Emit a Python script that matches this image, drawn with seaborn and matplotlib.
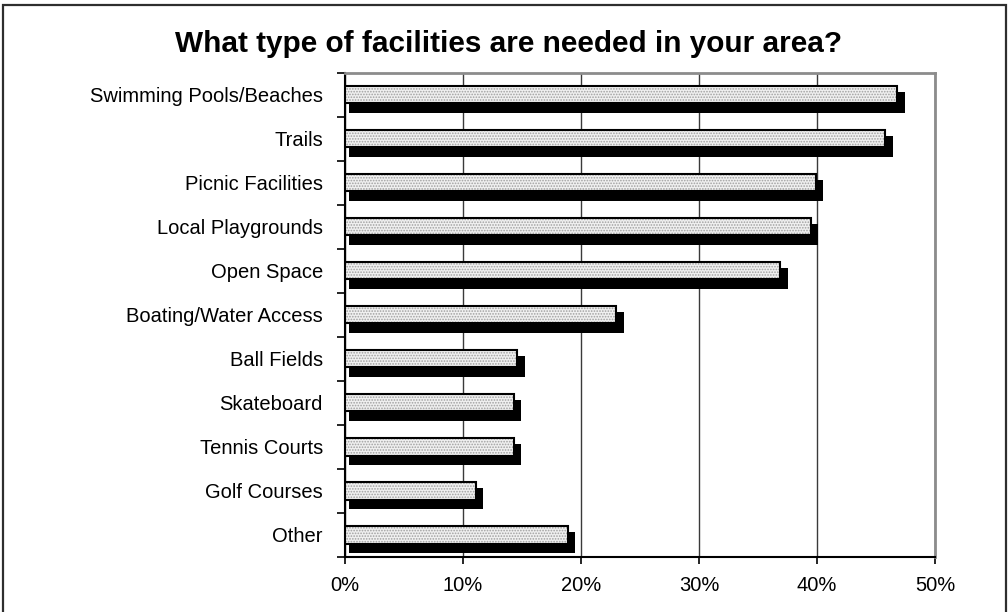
import matplotlib
matplotlib.use("Agg")
import matplotlib.pyplot as plt
from matplotlib.patches import Rectangle
import numpy as np
import pandas as pd
import seaborn as sns

# Survey results: share of respondents naming each facility type
categories = [
    "Swimming Pools/Beaches",
    "Trails",
    "Picnic Facilities",
    "Local Playgrounds",
    "Open Space",
    "Boating/Water Access",
    "Ball Fields",
    "Skateboard",
    "Tennis Courts",
    "Golf Courses",
    "Other",
]
shares = [46.8, 45.8, 39.9, 39.5, 36.9, 23.0, 14.6, 14.3, 14.3, 11.1, 18.9]
x_ticks = [0, 10, 20, 30, 40, 50]
x_tick_labels = ["0%", "10%", "20%", "30%", "40%", "50%"]
title = "What type of facilities are needed in your area?"

sns.set_theme(style="white")
plt.rcParams["font.family"] = ["Liberation Sans", "DejaVu Sans"]
plt.rcParams["hatch.linewidth"] = 0.8

df = pd.DataFrame({"facility": categories, "share": shares})

fig = plt.figure(figsize=(10.08, 6.12), dpi=100)
ax = fig.add_axes([0.3423, 0.0899, 0.5853, 0.7913])

# dotted light-grey fill of the bars
sns.barplot(data=df, x="share", y="facility", orient="h", width=0.39,
            color="#f2f2f2", ax=ax, zorder=3)
for p in ax.containers[-1]:
    p.set_facecolor("#f0f0f0")
    p.set_edgecolor("#a0a0a0")
    p.set_linewidth(0)
    p.set_hatch("......")

# black outline drawn on top of the fill
sns.barplot(data=df, x="share", y="facility", orient="h", width=0.39,
            color="white", ax=ax, zorder=4)
for p in ax.containers[-1]:
    p.set_facecolor("none")
    p.set_edgecolor("black")
    p.set_linewidth(1.5)

# drop shadow behind each bar, offset right and down
ypos = np.arange(len(categories))
ax.barh(ypos + 0.175, np.array(shares) + 0.32, left=0.3, height=0.49,
        color="black", linewidth=0, zorder=2)

ax.set_xlim(0, 50)
ax.set_ylim(len(categories) - 0.5, -0.5)
ax.set_xticks(x_ticks, labels=x_tick_labels)
ax.set_xlabel("")
ax.set_ylabel("")

ax.set_axisbelow(True)
ax.xaxis.grid(True, color="#3a3a3a", linewidth=1.0)
ax.yaxis.grid(False)

for side in ("left", "bottom"):
    ax.spines[side].set_color("black")
    ax.spines[side].set_linewidth(1.5)
for side in ("top", "right"):
    ax.spines[side].set_color("#8c8c8c")
    ax.spines[side].set_linewidth(2.0)

ax.tick_params(axis="x", which="major", bottom=True, direction="out",
               length=5, width=1.2, color="black", labelsize=14.5,
               labelcolor="black", pad=9)
ax.tick_params(axis="y", which="major", left=True, length=0,
               labelsize=14.5, labelcolor="black", pad=16)
ax.set_yticks(np.arange(-0.5, len(categories)), minor=True)
ax.tick_params(axis="y", which="minor", left=True, direction="out",
               length=6, width=1.2, color="black")

fig.text(0.505, 1 - 44 / 612, title, ha="center", va="center",
         fontsize=21.4, fontweight="bold", color="black")

# outer chart frame
fig.patches.append(Rectangle((2.7 / 1008, -0.05), (1005.5 - 2.7) / 1008,
                             1.05 - 4.7 / 612, transform=fig.transFigure,
                             fill=False, edgecolor="#2e2e2e", linewidth=1.6,
                             clip_on=False))

fig.savefig("out.png", dpi=100)
